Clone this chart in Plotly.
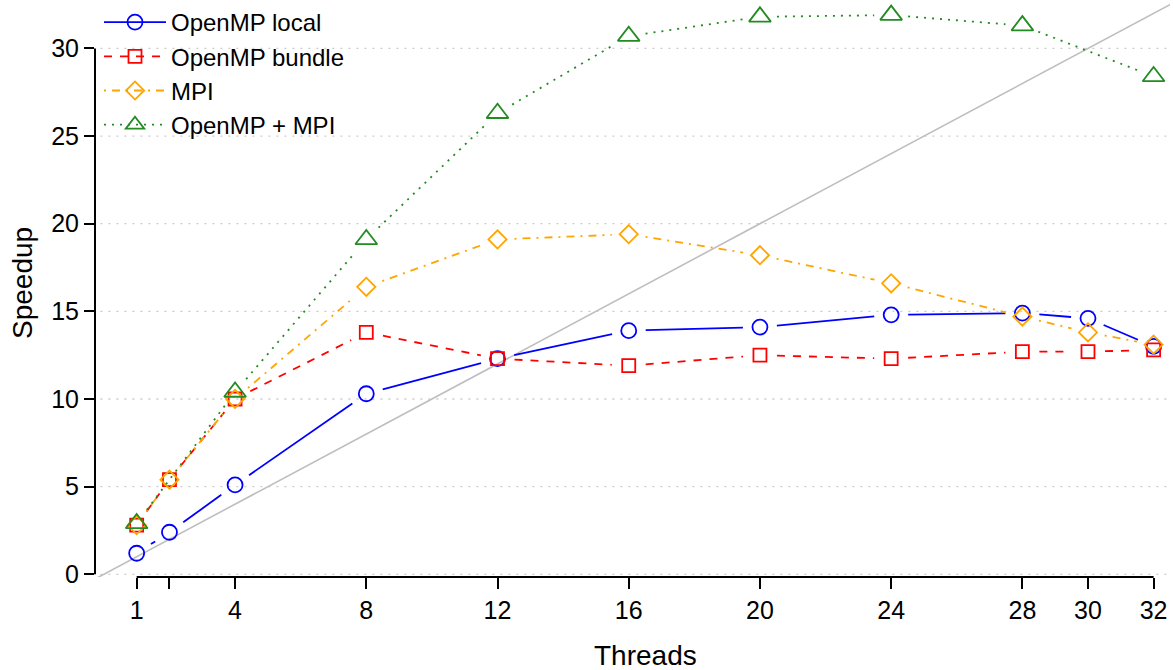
import math
import plotly.graph_objects as go

# Thread counts and measured speedups
threads = [1, 2, 4, 8, 12, 16, 20, 24, 28, 30, 32]
omp_local = [1.2, 2.4, 5.1, 10.3, 12.3, 13.9, 14.1, 14.8, 14.9, 14.6, 13.0]
omp_bundle = [2.8, 5.4, 10.0, 13.8, 12.3, 11.9, 12.5, 12.3, 12.7, 12.7, 12.8]
mpi = [2.8, 5.4, 10.0, 16.4, 19.1, 19.4, 18.2, 16.6, 14.7, 13.8, 13.1]
hybrid_threads = [1, 4, 8, 12, 16, 20, 24, 28, 32]
omp_mpi = [2.9, 10.4, 19.1, 26.3, 30.7, 31.8, 31.9, 31.3, 28.4]

x_ticks = [1, 2, 4, 8, 12, 16, 20, 24, 28, 30, 32]
x_tick_text = ["1", "", "4", "8", "12", "16", "20", "24", "28", "30", "32"]
y_ticks = [0, 5, 10, 15, 20, 25, 30]

W, H = 1173, 670
M_L, M_R, M_T, M_B = 95, 3, 0, 93
PW, PH = W - M_L - M_R, H - M_T - M_B
X_RANGE = [-0.27, 32.5]
Y_RANGE = [-0.154, 32.76]
FONT = "Liberation Sans, Arial, sans-serif"

# pixel scale of each axis, used to leave gaps around the points (type="b" look)
sx = PW / (X_RANGE[1] - X_RANGE[0])
sy = PH / (Y_RANGE[1] - Y_RANGE[0])
GAP = 17.0


def gapped(xs, ys):
    gx, gy = [], []
    for (x1, y1), (x2, y2) in zip(zip(xs, ys), zip(xs[1:], ys[1:])):
        dx, dy = (x2 - x1) * sx, (y2 - y1) * sy
        d = math.hypot(dx, dy)
        if d <= 2 * GAP:
            continue
        t = GAP / d
        gx += [x1 + t * (x2 - x1), x2 - t * (x2 - x1), None]
        gy += [y1 + t * (y2 - y1), y2 - t * (y2 - y1), None]
    return gx, gy


series = [
    ("OpenMP local", threads, omp_local, "#0000ff", "solid", "circle-open", 15),
    ("OpenMP bundle", threads, omp_bundle, "#ff0000", "8px,8px", "square-open", 13),
    ("MPI", threads, mpi, "#ffa500", "2px,6px,8px,6px", "diamond-open", 14),
    ("OpenMP + MPI", hybrid_threads, omp_mpi, "#228b22", "2px,6px", "triangle-up-open", 19),
]

fig = go.Figure()

# identity reference line y = x
fig.add_trace(go.Scatter(
    x=[X_RANGE[0] - 1, X_RANGE[1] + 1], y=[X_RANGE[0] - 1, X_RANGE[1] + 1],
    mode="lines", line=dict(color="#bebebe", width=1.6),
    showlegend=False, hoverinfo="skip", cliponaxis=True))

for name, xs, ys, color, dash, symbol, size in series:
    gx, gy = gapped(xs, ys)
    fig.add_trace(go.Scatter(
        x=gx, y=gy, mode="lines", connectgaps=False,
        line=dict(color=color, width=1.8, dash=dash),
        showlegend=False, legendgroup=name, hoverinfo="skip"))
    fig.add_trace(go.Scatter(
        x=xs, y=ys, mode="markers",
        marker=dict(symbol=symbol, size=size, color=color, line=dict(width=1.8, color=color)),
        showlegend=False, legendgroup=name, name=name))
    # legend entry
    fig.add_trace(go.Scatter(
        x=[None], y=[None], mode="lines+markers", name=name, legendgroup=name,
        line=dict(color=color, width=1.8, dash=dash),
        marker=dict(symbol=symbol, size=size, color=color, line=dict(width=1.8, color=color))))

shapes = []
# dotted horizontal grid
for v in y_ticks:
    shapes.append(dict(type="line", xref="paper", yref="y", x0=0.005, x1=1, y0=v, y1=v,
                       line=dict(color="#cccccc", width=1.3, dash="2px,6px"), layer="below"))
# axis lines spanning only the tick range
shapes.append(dict(type="line", xref="paper", yref="y", x0=0, x1=0, y0=0, y1=30,
                   line=dict(color="black", width=2)))
shapes.append(dict(type="line", xref="x", yref="paper", x0=1, x1=32, y0=0, y1=0,
                   line=dict(color="black", width=2)))

fig.update_layout(
    width=W, height=H,
    margin=dict(l=M_L, r=M_R, t=M_T, b=M_B),
    paper_bgcolor="white", plot_bgcolor="white",
    font=dict(family=FONT, size=25, color="black"),
    shapes=shapes,
    showlegend=True,
    legend=dict(x=4 / PW, y=1.0, xanchor="left", yanchor="top",
                bgcolor="rgba(0,0,0,0)", font=dict(size=24),
                itemwidth=62, tracegroupgap=0),
    xaxis=dict(range=X_RANGE, showgrid=False, zeroline=False, showline=False,
               tickmode="array", tickvals=x_ticks, ticktext=x_tick_text,
               ticks="outside", ticklen=11, tickwidth=2, tickcolor="black",
               tickfont=dict(size=25)),
    yaxis=dict(range=Y_RANGE, showgrid=False, zeroline=False, showline=False,
               tickmode="array", tickvals=y_ticks,
               ticks="outside", ticklen=10, tickwidth=2, tickcolor="black",
               tickfont=dict(size=25)),
    annotations=[
        dict(text="Threads", xref="paper", yref="paper", x=(645 - M_L) / PW,
             y=-(655 - (H - M_B)) / PH, xanchor="center", yanchor="middle",
             showarrow=False, font=dict(size=28)),
        dict(text="Speedup", xref="paper", yref="paper", x=-(95 - 22) / PW,
             y=1 - (283 - M_T) / PH, xanchor="center", yanchor="middle",
             textangle=-90, showarrow=False, font=dict(size=28)),
    ],
)

fig.write_html("out.html")
